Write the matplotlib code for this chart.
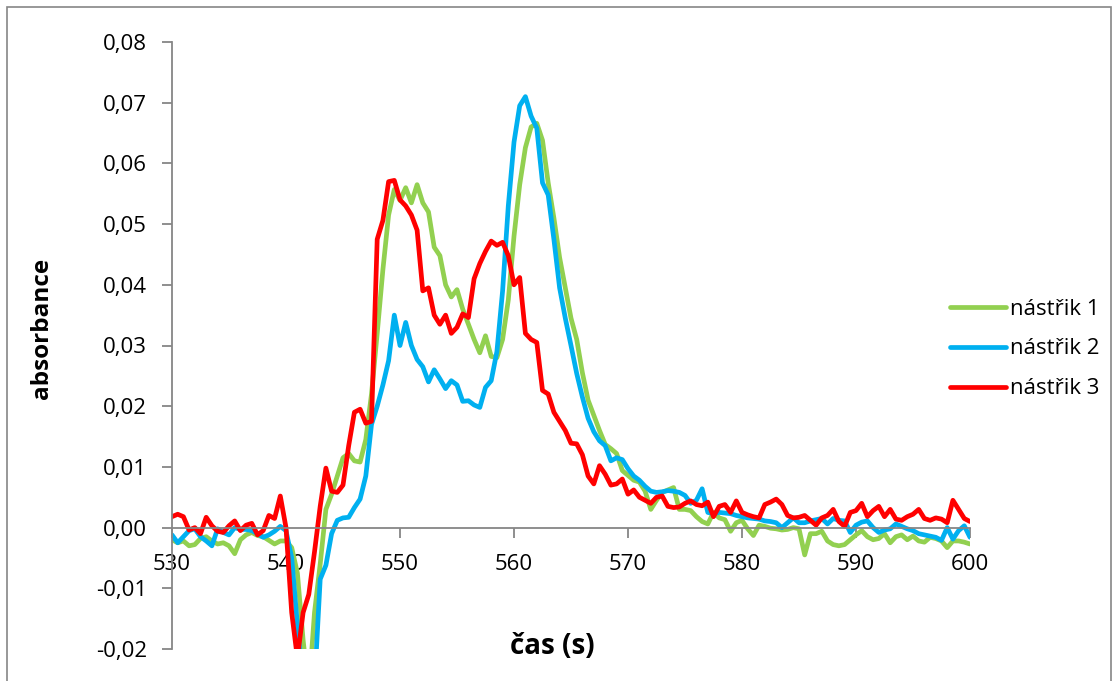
import numpy as np
import matplotlib.pyplot as plt
from matplotlib.patches import Rectangle
from matplotlib.ticker import FuncFormatter

# time axis (s), sampled every 0.5 s
time = np.arange(530, 600.01, 0.5)

# absorbance readings, one row per 5 s
nastrik1 = [
    -0.0020, -0.0025, -0.0022, -0.0030, -0.0028, -0.0018, -0.0015, -0.0022, -0.0027, -0.0025,
    -0.0030, -0.0043, -0.0020, -0.0012, -0.0008, -0.0013, -0.0015, -0.0021, -0.0027, -0.0022,
    -0.0022, -0.0033, -0.0075, -0.0185, -0.0270, -0.0140, -0.0060, 0.0030, 0.0055, 0.0085,
    0.0115, 0.0122, 0.0110, 0.0108, 0.0145, 0.0220, 0.0320, 0.0425, 0.0515, 0.0557,
    0.0539, 0.0560, 0.0535, 0.0565, 0.0535, 0.0520, 0.0462, 0.0448, 0.0400, 0.0380,
    0.0392, 0.0360, 0.0335, 0.0310, 0.0288, 0.0316, 0.0282, 0.0280, 0.0310, 0.0375,
    0.0480, 0.0565, 0.0626, 0.0660, 0.0666, 0.0638, 0.0568, 0.0510, 0.0445, 0.0395,
    0.0345, 0.0310, 0.0255, 0.0210, 0.0185, 0.0160, 0.0137, 0.0130, 0.0122, 0.0094,
    0.0086, 0.0078, 0.0075, 0.0060, 0.0030, 0.0045, 0.0058, 0.0062, 0.0066, 0.0030,
    0.0030, 0.0028, 0.0018, 0.0010, 0.0006, 0.0025, 0.0016, 0.0013, -0.0006, 0.0008,
    0.0012, -0.0002, -0.0013, 0.0004, 0.0002, -0.0001, -0.0002, -0.0004, -0.0003, 0.0000,
    -0.0002, -0.0045, -0.0010, -0.0010, -0.0006, -0.0022, -0.0028, -0.0030, -0.0028, -0.0020,
    -0.0012, -0.0005, -0.0015, -0.0020, -0.0018, -0.0010, -0.0025, -0.0015, -0.0012, -0.0020,
    -0.0014, -0.0022, -0.0024, -0.0016, -0.0018, -0.0022, -0.0033, -0.0022, -0.0022, -0.0024,
    -0.0027,
]
nastrik2 = [
    -0.0012, -0.0025, -0.0015, -0.0005, -0.0002, -0.0015, -0.0022, -0.0030, -0.0002, -0.0008,
    -0.0012, 0.0000, -0.0003, -0.0003, -0.0005, -0.0010, -0.0016, -0.0012, -0.0006, 0.0002,
    -0.0005, -0.0050, -0.0160, -0.0260, -0.0310, -0.0260, -0.0085, -0.0062, -0.0010, 0.0012,
    0.0016, 0.0017, 0.0033, 0.0047, 0.0085, 0.0170, 0.0200, 0.0235, 0.0275, 0.0350,
    0.0300, 0.0338, 0.0300, 0.0277, 0.0265, 0.0240, 0.0260, 0.0245, 0.0229, 0.0242,
    0.0235, 0.0208, 0.0209, 0.0202, 0.0198, 0.0231, 0.0242, 0.0290, 0.0390, 0.0530,
    0.0635, 0.0695, 0.0710, 0.0678, 0.0658, 0.0568, 0.0548, 0.0475, 0.0395, 0.0345,
    0.0300, 0.0254, 0.0215, 0.0180, 0.0158, 0.0143, 0.0135, 0.0110, 0.0115, 0.0112,
    0.0097, 0.0085, 0.0078, 0.0068, 0.0060, 0.0058, 0.0059, 0.0061, 0.0060, 0.0058,
    0.0053, 0.0040, 0.0045, 0.0064, 0.0025, 0.0023, 0.0025, 0.0024, 0.0023, 0.0020,
    0.0018, 0.0016, 0.0015, 0.0014, 0.0011, 0.0010, 0.0008, 0.0000, 0.0008, 0.0016,
    0.0008, 0.0008, 0.0011, 0.0013, 0.0015, 0.0006, 0.0015, 0.0012, 0.0011, -0.0008,
    0.0004, 0.0009, 0.0011, 0.0000, -0.0008, -0.0004, -0.0002, 0.0006, 0.0002, -0.0002,
    -0.0005, -0.0010, -0.0012, -0.0014, -0.0016, -0.0021, 0.0000, -0.0019, -0.0005, 0.0003,
    -0.0016,
]
nastrik3 = [
    0.0018, 0.0022, 0.0018, -0.0004, 0.0000, -0.0010, 0.0017, 0.0003, -0.0006, -0.0008,
    0.0003, 0.0011, -0.0005, 0.0004, 0.0007, -0.0012, -0.0005, 0.0020, 0.0015, 0.0052,
    0.0000, -0.0140, -0.0215, -0.0140, -0.0110, -0.0040, 0.0035, 0.0098, 0.0060, 0.0058,
    0.0070, 0.0135, 0.0190, 0.0195, 0.0172, 0.0175, 0.0475, 0.0506, 0.0570, 0.0572,
    0.0540, 0.0530, 0.0515, 0.0490, 0.0390, 0.0395, 0.0350, 0.0335, 0.0350, 0.0320,
    0.0330, 0.0352, 0.0346, 0.0410, 0.0435, 0.0455, 0.0472, 0.0465, 0.0470, 0.0448,
    0.0400, 0.0412, 0.0320, 0.0310, 0.0305, 0.0226, 0.0220, 0.0190, 0.0175, 0.0160,
    0.0139, 0.0138, 0.0120, 0.0085, 0.0072, 0.0102, 0.0088, 0.0070, 0.0072, 0.0080,
    0.0055, 0.0062, 0.0050, 0.0045, 0.0040, 0.0050, 0.0052, 0.0035, 0.0033, 0.0034,
    0.0040, 0.0044, 0.0038, 0.0036, 0.0042, 0.0018, 0.0035, 0.0038, 0.0025, 0.0044,
    0.0025, 0.0021, 0.0018, 0.0016, 0.0038, 0.0042, 0.0047, 0.0038, 0.0020, 0.0016,
    0.0017, 0.0020, 0.0012, 0.0004, 0.0016, 0.0020, 0.0030, 0.0010, 0.0002, 0.0025,
    0.0028, 0.0040, 0.0018, 0.0028, 0.0035, 0.0018, 0.0030, 0.0014, 0.0012, 0.0018,
    0.0022, 0.0030, 0.0015, 0.0012, 0.0016, 0.0014, 0.0008, 0.0045, 0.0030, 0.0015,
    0.0010,
]

labels = ['nástřik 1', 'nástřik 2', 'nástřik 3']
colors = ['#92D050', '#00B0F0', '#FF0000']
x_ticks = [530, 540, 550, 560, 570, 580, 590, 600]
y_ticks = [-0.02, -0.01, 0.00, 0.01, 0.02, 0.03, 0.04, 0.05, 0.06, 0.07, 0.08]

plt.rcParams['font.family'] = ['Open Sans', 'DejaVu Sans']
axis_grey = '#868686'

fig = plt.figure(figsize=(11.18, 6.81), dpi=100)
fig.patches.append(Rectangle((7 / 1118, -0.05), 1104 / 1118, 1.05 - 7 / 681,
                             transform=fig.transFigure, fill=False,
                             edgecolor=axis_grey, lw=1.2))

ax = fig.add_axes([172 / 1118, 32 / 681, 798 / 1118, 607 / 681])

for series, lab, col in zip([nastrik1, nastrik2, nastrik3], labels, colors):
    ax.plot(time, series, color=col, lw=3.4, label=lab,
            solid_joinstyle='round', solid_capstyle='round')

ax.set_xlim(530, 600)
ax.set_ylim(-0.02, 0.08)
ax.set_xticks(x_ticks)
ax.set_yticks(y_ticks)
ax.yaxis.set_major_formatter(FuncFormatter(lambda v, p: f'{v:.2f}'.replace('.', ',')))

for side in ['top', 'right']:
    ax.spines[side].set_visible(False)
ax.spines['bottom'].set_position(('data', 0))
for side in ['left', 'bottom']:
    ax.spines[side].set_color(axis_grey)
    ax.spines[side].set_linewidth(1.3)

ax.tick_params(axis='both', direction='out', color=axis_grey, width=1.3,
               length=7, labelsize=16, labelcolor='black')
ax.tick_params(axis='y', pad=11)
ax.tick_params(axis='x', pad=12)

fig.text(552 / 1118, 1 - 647 / 681, 'čas (s)', fontsize=20, fontweight='bold',
         ha='center', va='center')
fig.text(42 / 1118, 1 - 328 / 681, 'absorbance', fontsize=17.5, fontweight='bold',
         rotation=90, ha='center', va='center')

fig.legend(loc='center left', bbox_to_anchor=(950 / 1118, 1 - 349 / 681),
           frameon=False, fontsize=16, handlelength=2.5, handletextpad=0.2,
           labelspacing=0.85, borderpad=0, borderaxespad=0)

fig.savefig('out.png', dpi=100)
